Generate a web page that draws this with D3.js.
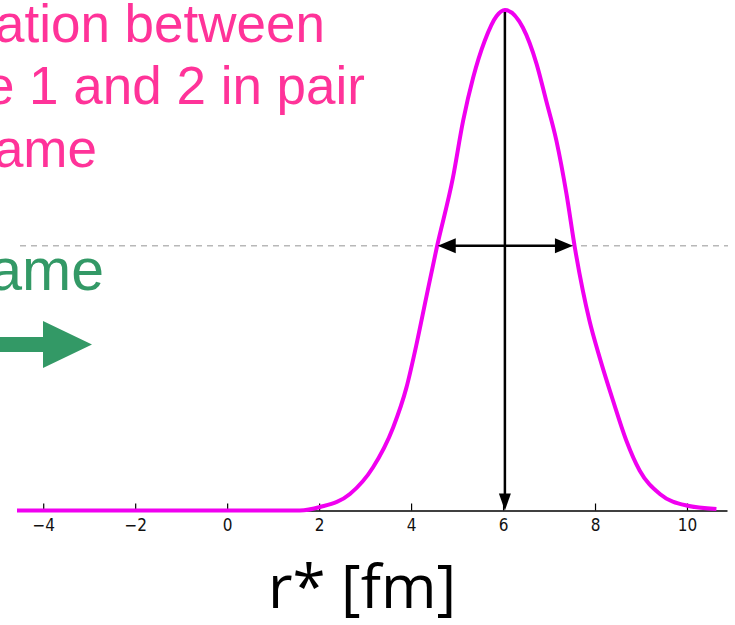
<!DOCTYPE html>
<html>
<head>
<meta charset="utf-8">
<script src="https://cdn.jsdelivr.net/npm/d3@7"></script>
<style>
  html, body { margin: 0; padding: 0; background: #fff; }
  svg { display: block; }
  .tick text { font-family: 'Liberation Sans Narrow', 'DejaVu Sans Condensed', 'Liberation Sans', sans-serif; font-size: 17px; }
</style>
</head>
<body>
<svg id="chart" width="735" height="625"></svg>
<script>
// Relative separation r* distribution (arbitrary units, peak normalised to 1)
const rStar = [-4.57, 1.58, 2.02, 2.67, 3.17, 3.61, 3.90, 4.12, 4.33, 4.56, 4.91, 5.13, 5.35, 5.60, 5.86, 6.04,
               6.43, 6.73, 6.94, 7.16, 7.38, 7.56, 7.88, 8.10, 8.39, 8.68, 8.97, 9.41, 9.99, 10.64];
const density = [0, 0, 0.007, 0.033, 0.086, 0.166, 0.246, 0.333, 0.426, 0.526, 0.665, 0.778, 0.865, 0.938, 0.988, 1.0,
                 0.965, 0.892, 0.818, 0.739, 0.632, 0.526, 0.379, 0.306, 0.220, 0.140, 0.080, 0.033, 0.010, 0.003];
const xTicks = [-4, -2, 0, 2, 4, 6, 8, 10];
const xExtent = [-4.57, 10.87];
const peakR = 6.04;
const widthLevel = 0.529;
const widthEnds = [4.58, 7.52];
const axisTitle = "r* [fm]";
const pinkLines = ["Separation between", "particle 1 and 2 in pair", "rest frame"];
const greenLabel = "frame";

const svg = d3.select("#chart");

const x = d3.scaleLinear().domain(xExtent).range([17, 727]);
const y = d3.scaleLinear().domain([0, 1]).range([510.5, 10]);

// dashed level line at the width height
svg.append("line")
  .attr("x1", 20).attr("x2", 728)
  .attr("y1", y(widthLevel)).attr("y2", y(widthLevel))
  .attr("stroke", "#b8b8b8").attr("stroke-width", 1.3)
  .attr("stroke-dasharray", "6,5");

// axis
const axis = d3.axisBottom(x)
  .tickValues(xTicks)
  .tickSizeInner(-7)
  .tickSizeOuter(0)
  .tickPadding(8)
  .tickFormat(d3.format("d"));

const gAxis = svg.append("g")
  .attr("transform", `translate(0,${y(0)})`)
  .call(axis);
gAxis.select(".domain").attr("stroke", "#000").attr("stroke-width", 1.5);
gAxis.selectAll(".tick line").attr("stroke", "#000").attr("stroke-width", 1.2);
gAxis.selectAll(".tick text").attr("fill", "#111");

// distribution curve
const pts = rStar.map((r, i) => [r, density[i]]);
svg.append("path")
  .datum(pts)
  .attr("fill", "none")
  .attr("stroke", "#f000f0")
  .attr("stroke-width", 4)
  .attr("stroke-linejoin", "round")
  .attr("d", d3.line().x(d => x(d[0])).y(d => y(d[1])).curve(d3.curveMonotoneX));

// vertical arrow from the peak down to the axis
const vx = x(peakR);
svg.append("line")
  .attr("x1", vx).attr("x2", vx)
  .attr("y1", y(1) + 2).attr("y2", y(0) - 14)
  .attr("stroke", "#000").attr("stroke-width", 2.5);
svg.append("path")
  .attr("d", `M${vx - 6},${y(0) - 17} L${vx + 6},${y(0) - 17} L${vx},${y(0)} Z`)
  .attr("fill", "#000");

// double arrow across the width
const hy = y(widthLevel);
const hx1 = x(widthEnds[0]), hx2 = x(widthEnds[1]);
svg.append("line")
  .attr("x1", hx1 + 14).attr("x2", hx2 - 14)
  .attr("y1", hy).attr("y2", hy)
  .attr("stroke", "#000").attr("stroke-width", 2.5);
svg.append("path")
  .attr("d", `M${hx1},${hy} L${hx1 + 18},${hy - 7.5} L${hx1 + 18},${hy + 7.5} Z`)
  .attr("fill", "#000");
svg.append("path")
  .attr("d", `M${hx2},${hy} L${hx2 - 18},${hy - 7.5} L${hx2 - 18},${hy + 7.5} Z`)
  .attr("fill", "#000");

// axis title
svg.append("text")
  .attr("x", 362).attr("y", 608)
  .attr("text-anchor", "middle")
  .attr("fill", "#000")
  .style("font-family", "'Open Sans', 'Noto Sans', sans-serif")
  .style("font-size", "60px")
  .text(axisTitle);

// pink annotation
const pinkEnds = [325, 365, 97];
const pinkBase = [42, 104, 167];
pinkLines.forEach((t, i) => {
  svg.append("text")
    .attr("x", pinkEnds[i]).attr("y", pinkBase[i])
    .attr("text-anchor", "end")
    .attr("fill", "#ff3399")
    .style("font-family", "'Liberation Sans', Arial, sans-serif")
    .style("font-size", "53px")
    .text(t);
});

// green annotation with arrow
svg.append("text")
  .attr("x", 104).attr("y", 290)
  .attr("text-anchor", "end")
  .attr("fill", "#339966")
  .style("font-family", "'Liberation Sans', Arial, sans-serif")
  .style("font-size", "59px")
  .text(greenLabel);
svg.append("path")
  .attr("d", "M-5,337 L43,337 L43,321 L92,344.5 L43,368 L43,352 L-5,352 Z")
  .attr("fill", "#339966");
</script>
</body>
</html>
